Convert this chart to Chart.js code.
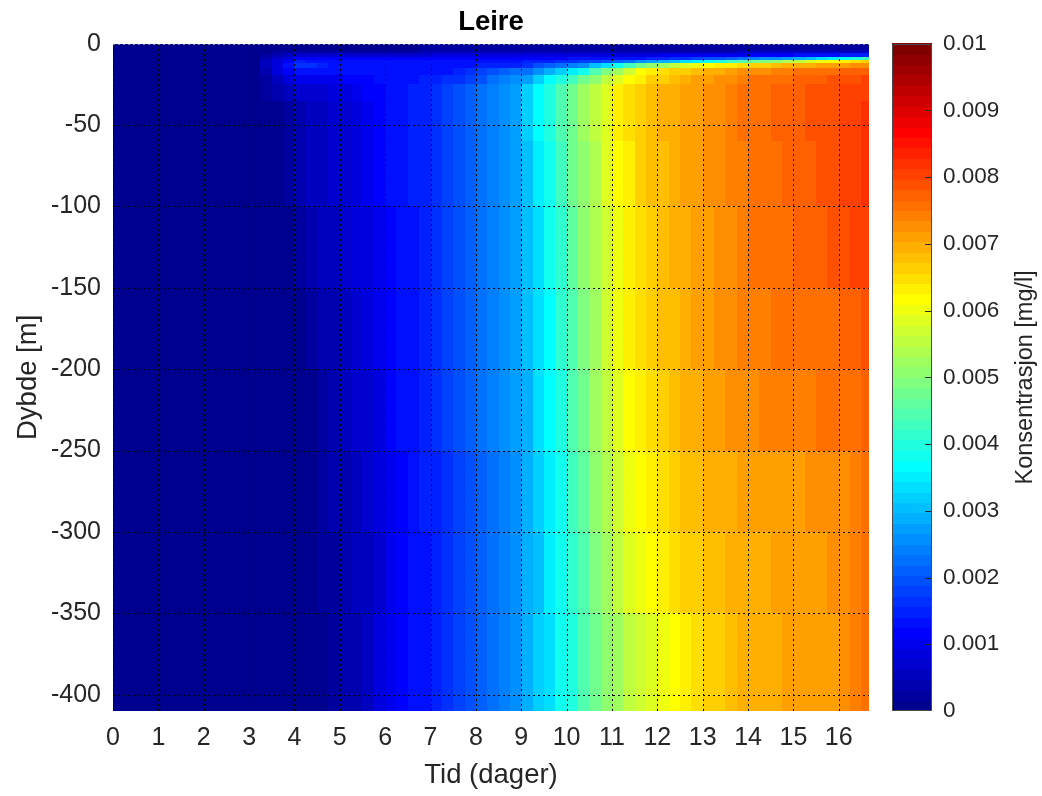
<!DOCTYPE html>
<html>
<head>
<meta charset="utf-8">
<script src="https://cdn.jsdelivr.net/npm/chart.js@4.4.1/dist/chart.umd.min.js"></script>
<style>
  html, body { margin: 0; padding: 0; background: #ffffff; }
  canvas { display: block; }
</style>
</head>
<body>
<canvas id="chart" width="1042" height="796"></canvas>
<script>
// ---- labels -------------------------------------------------------------
const TITLE = 'Leire';
const X_LABEL = 'Tid (dager)';
const Y_LABEL = 'Dybde [m]';
const C_LABEL = 'Konsentrasjon [mg/l]';

// ---- axes ---------------------------------------------------------------
const X_MAX = 16.6667;              // simulation length in days
const Y_MIN = -410;                 // deepest level in m
const X_TICKS = [0, 1, 2, 3, 4, 5, 6, 7, 8, 9, 10, 11, 12, 13, 14, 15, 16];
const Y_TICKS = [0, -50, -100, -150, -200, -250, -300, -350, -400];
const C_MAX = 0.01;
const C_TICKS = [0, 0.001, 0.002, 0.003, 0.004, 0.005, 0.006, 0.007, 0.008, 0.009, 0.01];
const C_TICK_LABELS = ['0', '0.001', '0.002', '0.003', '0.004', '0.005', '0.006', '0.007', '0.008', '0.009', '0.01'];

// ---- sampling -----------------------------------------------------------
// start of each output interval (days)
const TIME_DAYS = [
  0, 0.25, 0.5, 0.75, 1, 1.25, 1.5, 1.75, 2, 2.25, 2.5, 2.75, 3,
  3.25, 3.5, 3.75, 4, 4.25, 4.5, 4.75, 5, 5.25, 5.5, 5.75, 6, 6.25, 6.5, 6.75,
  7, 7.25, 7.5, 7.75, 8, 8.25, 8.5, 8.75, 9, 9.25, 9.5, 9.75, 10, 10.25,
  10.5, 10.75, 11, 11.25, 11.5, 11.75, 12, 12.25, 12.5, 12.75, 13, 13.25,
  13.5, 13.75, 14, 14.25, 14.5, 14.75, 15, 15.25, 15.5, 15.75, 16, 16.25, 16.5
];
// depth band edges (m), surface first
const DEPTH_EDGES = [0, -4, -6, -8, -10, -12, -15, -19, -25, -35, -60, -100, -150, -200, -250, -300, -350, -410];

// ---- clay concentration per depth band, in units of 0.0001 mg/l ----------
const band_0_4 = [
  0.5,0.5,0.5,0.5,0.5,0.5,0.5,0.5,0.5,0.5,0.5,0.5,0.5,
  0.5,1,1.5,1.5,1.5,1.5,1.5,1.5,1.5,1.5,1.5,1.5,1.5,1.5,
  2,2,2,2,2,2,2,2,2,2,2,2,2,2,
  2.5,2.5,2.5,2.5,2.5,2.5,2.5,2.5,2.5,2.5,2.5,2.5,2.5,2.5,
  3,3,3,3,3,3,3,3,3,3,3,3
];
const band_4_6 = [
  0.5,0.5,0.5,0.5,0.5,0.5,0.5,0.5,0.5,0.5,0.5,0.5,0.5,
  1,2,3,3,3,3,3,3,3,3,3,3,3,3,
  3.5,3.5,3.5,3.5,3.5,3.5,3.5,3.5,3.5,3.5,3.5,3.5,3.5,3.5,
  4,4,4,4,4,4,4,4,4,4,4,4,4,4,
  5,5,5,5,5,5,5,5,5,5,5,5
];
const band_6_8 = [
  0.5,0.5,0.5,0.5,0.5,0.5,0.5,0.5,0.5,0.5,0.5,0.5,0.5,
  2,4,6,7,7,7,7,7,7,7,7,7,7,7,
  7,8,8,8,8,8,8,8,8,8,8,8,8,8.5,
  8.5,8.5,8.5,8.5,8.5,8.5,8.5,10,10,10,10,10,10,10,
  10,11,11,11,11,13,13,13,13,15,15,15
];
const band_8_10 = [
  0.5,0.5,0.5,0.5,0.5,0.5,0.5,0.5,0.5,0.5,0.5,0.5,0.5,
  4,7,9,11,12,12,12,12,12,12,12,12,12,12,
  12,12,12,12,12,12,12,12,12,12,12,12,12,12.5,
  12.5,12.5,13,13,13.5,14,14.5,15,16,17,18,19,20,21,
  22,23.5,25,26.5,28,29.5,31,33,35,37,40,43
];
const band_10_12 = [
  0.5,0.5,0.5,0.5,0.5,0.5,0.5,0.5,0.5,0.5,0.5,0.5,0.5,
  5,9,12,15,14,13.5,13.5,13.5,13.5,13.5,13.5,13.5,13.5,13.5,
  13.5,13,13,13,13,13,13,13.5,14,14.5,15,15.5,16,16.5,
  17.5,18.5,20,21.5,23,25,27,29,31,33,35,37.5,40,42.5,
  45,47,49,51.5,54,56,58,60,62,63.5,65,66
];
const band_12_15 = [
  0.5,0.5,0.5,0.5,0.5,0.5,0.5,0.5,0.5,0.5,0.5,0.5,0.5,
  5,9,13,17,16,14.5,13.5,13.5,13.5,13.5,13.5,13.5,13.5,13.5,
  13.5,14,14,14,14,15,15,15,15,17,19,20.5,22,24,
  26.5,30,34,38.5,43,47,50,53,56,58,60,61.5,63,64,
  65,66,67,68,69,69.5,70,70.5,71,71.5,72,73
];
const band_15_19 = [
  0.5,0.5,0.5,0.5,0.5,0.5,0.5,0.5,0.5,0.5,0.5,0.5,0.5,
  4,8,11,14,14,13,13,13,13,13,13,13,13,13,
  13,14,14,15,16,18,19,21,22,23,26,29,32,35,
  39,44,49,53,57,61,63,65,66,67,68,69,70,71,
  72,73,73,74,74,75,75,76,76,77,77,78
];
const band_19_25 = [
  0.5,0.5,0.5,0.5,0.5,0.5,0.5,0.5,0.5,0.5,0.5,0.5,0.5,
  3,6,8,10,10,10,10.5,11,11.5,12,12.5,13,13.5,14,
  14.5,15,16,17,18,20,22,24,26,28,32,36,40,43,
  47,51,55,59,62,64,66,67,68,69.5,70.5,71.5,72,73,
  74,75,75.5,76,76.5,77,77.5,78,78.5,79,79.5,80
];
const band_25_35 = [
  0.5,0.5,0.5,0.5,0.5,0.5,0.5,0.5,0.5,0.5,0.5,0.5,0.5,
  2,4,6,7,7,7.5,8,9,10,11,12,13,14,14.5,
  15,16.5,18,19.5,21,23,24.5,26,28,32,36,40,44,48,
  52,55,59,62.5,65,66.5,68,69,70,70.5,71.5,72.5,73,74,
  75,76,76.5,77,77.5,78,78.5,79,79.5,80,80.5,81
];
const band_35_60 = [
  0.5,0.5,0.5,0.5,0.5,0.5,0.5,0.5,0.5,0.5,0.5,0.5,0.5,
  0.5,1.5,2.5,4,5.5,6,6.5,7.5,8.5,9.5,11,12.5,13.5,14.5,
  15.5,17,18.5,20,21.5,23,24.5,26,28,32,36,40,44,48,
  52,55,59,62.5,65,66.5,68,69,70,70.5,71.5,72.5,73,74,
  75,76,76.5,77,77.5,78,78.5,79,79.5,80,81,81.5
];
const band_60_100 = [
  0.5,0.5,0.5,0.5,0.5,0.5,0.5,0.5,0.5,0.5,0.5,0.5,0.5,
  0.5,1,2,3.5,5,6,6.5,7.5,8.5,9.5,11,12.5,13.5,14.5,
  15.5,17,18.5,20,21.5,23,24.5,26,28,31,35,39,43,47,
  51,54,58,61.5,64,66,67.5,68.5,69.5,70.5,71,72,73,73.5,
  74.5,75.5,76,76.5,77,77.5,78,78.5,79,80,81,81.5
];
const band_100_150 = [
  0.5,0.5,0.5,0.5,0.5,0.5,0.5,0.5,0.5,0.5,0.5,0.5,0.5,
  0.5,0.5,1.5,3,4,5,6,7,8,9,10.5,12,13,14,
  15,16.5,18,19.5,21,22.5,24,25.5,27.5,30.5,34,38,42,46,
  50,53.5,57,60.5,63,65,67,68,69,70,71,71.5,72.5,73,
  74,75,75.5,76,76.5,77,77.5,78,78.5,79,80,80.5
];
const band_150_200 = [
  0.5,0.5,0.5,0.5,0.5,0.5,0.5,0.5,0.5,0.5,0.5,0.5,0.5,
  0.5,0.5,0.5,1,2,3.5,4.5,5.5,6.5,8,9.5,11.5,13,14,
  15,16.5,18,19.5,21,22.5,24,25.5,27.5,30,33.5,37,41,45,
  49,53,56.5,60,62.5,64.5,66.5,67.5,68.5,69.5,70.5,71,72,72.5,
  73.5,74,74.5,75,75,75.5,76,76,76.5,77,78,79
];
const band_200_250 = [
  0.5,0.5,0.5,0.5,0.5,0.5,0.5,0.5,0.5,0.5,0.5,0.5,0.5,
  0.5,0.5,0.5,0.5,1.5,3,4.5,5.5,6.5,7.5,9,11,12.5,14,
  15,16,17.5,19,20.5,22,23.5,25,27,29.5,33,36.5,40,44,
  48,52,55.5,59,61.5,63.5,65.5,67,68,69,70,70.5,71.5,72,
  72.5,73,73.5,74,74,74.5,74.5,75,75,75.5,76,77
];
const band_250_300 = [
  0.5,0.5,0.5,0.5,0.5,0.5,0.5,0.5,0.5,0.5,0.5,0.5,0.5,
  0.5,0.5,0.5,0.5,1,2.5,3.5,4.5,5.5,6.5,8,10,12,13.5,
  14.5,15.5,17,18.5,20,21.5,23,24.5,26.5,29,32,35.5,39,42.5,
  46.5,50,54,57.5,60,62,63.5,65,66.5,67.5,68.5,69,69.5,70,
  70.5,70.5,71,71,71.5,71.5,72,72,72.5,73,74,75
];
const band_300_350 = [
  0.5,0.5,0.5,0.5,0.5,0.5,0.5,0.5,0.5,0.5,0.5,0.5,0.5,
  0.5,0.5,0.5,0.5,1,2,3,4,5,6,7.5,9.5,11.5,13,
  14,15,16.5,18,19.5,21,22.5,24,26,28.5,31,34.5,38,41,
  45,48.5,52,55.5,58,60,62,63.5,65,66,67,68,68.5,69,
  69.5,70,70,70.5,70.5,71,71,71.5,72,72.5,73.5,75
];
const band_350_410 = [
  0.5,0.5,0.5,0.5,0.5,0.5,0.5,0.5,0.5,0.5,0.5,0.5,0.5,
  0.5,0.5,0.5,0.5,0.5,1.5,2.5,3.5,4.5,5.5,8,10.5,12,13.5,
  14,15,16.5,18,19.5,21,22.5,24.5,26.5,29,32,34,37.5,40,
  44,47,50,53,55,57,58.5,60,61.5,63,64.5,66,67,68,
  69,69.5,70,70,70.5,70.5,71,71,71.5,72.5,73.5,75
];
const BANDS = [
  band_0_4, band_4_6, band_6_8, band_8_10, band_10_12, band_12_15, band_15_19,
  band_19_25, band_25_35, band_35_60, band_60_100, band_100_150, band_150_200,
  band_200_250, band_250_300, band_300_350, band_350_410
];
const UNIT = 0.0001;   // mg/l per stored unit

// ---- style --------------------------------------------------------------
const FONT = "'Liberation Sans', Arial, Helvetica, sans-serif";
const INK = '#262626';

// MATLAB-style jet colormap with m entries
function jetMap(m) {
  const n = Math.ceil(m / 4);
  const u = [];
  for (let i = 1; i <= n; i++) u.push(i / n);
  for (let i = 0; i < n - 1; i++) u.push(1);
  for (let i = n; i >= 1; i--) u.push(i / n);
  const g0 = Math.ceil(n / 2) - (m % 4 === 1 ? 1 : 0);
  const rgb = Array.from({ length: m }, () => [0, 0, 0]);
  u.forEach((val, k) => {
    const gi = g0 + k + 1, ri = gi + n, bi = gi - n;
    if (gi >= 1 && gi <= m) rgb[gi - 1][1] = val;
    if (ri >= 1 && ri <= m) rgb[ri - 1][0] = val;
    if (bi >= 1 && bi <= m) rgb[bi - 1][2] = val;
  });
  return rgb.map(c => `rgb(${Math.round(c[0] * 255)},${Math.round(c[1] * 255)},${Math.round(c[2] * 255)})`);
}
const LEVELS = 64;
const JET = jetMap(LEVELS);
function colourFor(v) {
  let k = Math.floor(v / C_MAX * LEVELS);
  if (k < 0) k = 0;
  if (k > LEVELS - 1) k = LEVELS - 1;
  return JET[k];
}

// filled concentration field, one cell per interval and depth band
const fieldPlugin = {
  id: 'field',
  beforeDatasetsDraw(chart) {
    const { ctx, chartArea: a, scales: { x, y } } = chart;
    ctx.save();
    ctx.beginPath();
    ctx.rect(a.left, a.top, a.right - a.left, a.bottom - a.top);
    ctx.clip();
    BANDS.forEach((row, r) => {
      const T = Math.round(y.getPixelForValue(DEPTH_EDGES[r]));
      const B = Math.round(y.getPixelForValue(DEPTH_EDGES[r + 1]));
      row.forEach((val, i) => {
        const last = i + 1 >= TIME_DAYS.length;
        const t1 = last ? X_MAX : TIME_DAYS[i + 1];
        const L = Math.round(x.getPixelForValue(TIME_DAYS[i]));
        const R = Math.round(x.getPixelForValue(t1));
        ctx.fillStyle = colourFor(val * UNIT);
        ctx.fillRect(L, T, R - L + (last ? 1 : 0), B - T + (r === BANDS.length - 1 ? 1 : 0));
      });
    });
    ctx.restore();
  },
  // dotted grid on top of the field
  afterDatasetsDraw(chart) {
    const { ctx, chartArea: a, scales: { x, y } } = chart;
    ctx.save();
    ctx.lineWidth = 1;
    ctx.setLineDash([2, 3]);
    ctx.strokeStyle = '#000000';
    x.ticks.forEach(t => {
      const px = Math.round(x.getPixelForValue(t.value)) + 0.5;
      ctx.beginPath(); ctx.moveTo(px, Math.round(a.top)); ctx.lineTo(px, a.bottom); ctx.stroke();
    });
    y.ticks.forEach(t => {
      const py = Math.round(y.getPixelForValue(t.value)) + 0.5;
      ctx.strokeStyle = t.value === 0 ? 'rgba(150,150,150,0.9)' : '#000000';
      ctx.beginPath(); ctx.moveTo(Math.round(a.left), py); ctx.lineTo(a.right, py); ctx.stroke();
    });
    ctx.restore();
  },
  // bold title centred over the plot
  afterDraw(chart) {
    const { ctx, chartArea: a } = chart;
    ctx.save();
    ctx.fillStyle = '#000000';
    ctx.font = `bold 27.5px ${FONT}`;
    ctx.textAlign = 'center';
    ctx.textBaseline = 'middle';
    ctx.fillText(TITLE, (a.left + a.right) / 2, a.top - 21);
    ctx.restore();
  }
};

// colour bar beside the plot, on the concentration scale
const colourBarPlugin = {
  id: 'colourBar',
  afterDraw(chart) {
    const { ctx, chartArea: a, scales: { c } } = chart;
    const left = c.left + 23, width = 40;
    ctx.save();
    for (let k = 0; k < LEVELS; k++) {
      const yTop = c.getPixelForValue((k + 1) / LEVELS * C_MAX);
      const yBot = c.getPixelForValue(k / LEVELS * C_MAX);
      ctx.fillStyle = JET[k];
      ctx.fillRect(left, Math.floor(yTop), width, Math.ceil(yBot) - Math.floor(yTop));
    }
    ctx.strokeStyle = '#4a4a4a';
    ctx.lineWidth = 1;
    ctx.strokeRect(left + 0.5, Math.round(c.top) + 0.5, width - 1, Math.round(c.bottom - c.top) - 1);
    ctx.strokeStyle = INK;
    C_TICKS.forEach(v => {
      if (v <= 0 || v >= C_MAX) return;
      const py = Math.round(c.getPixelForValue(v)) + 0.5;
      ctx.beginPath(); ctx.moveTo(left + width - 7, py); ctx.lineTo(left + width - 1, py); ctx.stroke();
    });
    // rotated bar label
    ctx.translate(c.left + 157, (a.top + a.bottom) / 2);
    ctx.rotate(-Math.PI / 2);
    ctx.fillStyle = INK;
    ctx.font = `23.5px ${FONT}`;
    ctx.textAlign = 'center';
    ctx.textBaseline = 'middle';
    ctx.fillText(C_LABEL, 0, 0);
    ctx.restore();
  }
};

new Chart(document.getElementById('chart'), {
  type: 'scatter',
  data: { datasets: [] },
  plugins: [fieldPlugin, colourBarPlugin],
  options: {
    responsive: false,
    devicePixelRatio: 1,
    animation: false,
    layout: { padding: { top: 43.7, left: 0, right: 0, bottom: 0 } },
    plugins: {
      legend: { display: false },
      tooltip: { enabled: false },
      title: { display: false }
    },
    scales: {
      x: {
        type: 'linear',
        position: 'bottom',
        min: 0,
        max: X_MAX,
        afterBuildTicks: s => { s.ticks = X_TICKS.map(v => ({ value: v })); },
        afterFit: s => { s.height = 85; },
        grid: { display: false, drawTicks: true, tickLength: 12 },
        border: { display: false },
        ticks: {
          autoSkip: false, maxRotation: 0, padding: 0, color: INK,
          font: { family: FONT, size: 25 },
          callback: v => String(v)
        },
        title: {
          display: true, text: X_LABEL, color: INK,
          font: { family: FONT, size: 27.5, lineHeight: 1.2 },
          padding: { top: 0, bottom: 4.5 }
        }
      },
      y: {
        type: 'linear',
        position: 'left',
        min: Y_MIN,
        max: 0,
        afterBuildTicks: s => { s.ticks = Y_TICKS.map(v => ({ value: v })); },
        afterFit: s => { s.width = 113; },
        grid: { display: false, drawTicks: true, tickLength: 12 },
        border: { display: false },
        ticks: {
          autoSkip: false, padding: 0, color: INK,
          font: { family: FONT, size: 25 },
          callback: v => String(v)
        },
        title: {
          display: true, text: Y_LABEL, color: INK,
          font: { family: FONT, size: 27.5, lineHeight: 1.2 },
          padding: { top: 11.5, bottom: 0 }
        }
      },
      c: {
        type: 'linear',
        position: 'right',
        min: 0,
        max: C_MAX,
        afterBuildTicks: s => { s.ticks = C_TICKS.map(v => ({ value: v })); },
        afterFit: s => { s.width = 173; },
        grid: { display: false, drawTicks: true, tickLength: 74 },
        border: { display: false },
        ticks: {
          autoSkip: false, padding: 0, color: INK,
          font: { family: FONT, size: 22.5 },
          callback: (v, i) => C_TICK_LABELS[i]
        }
      }
    }
  }
});
</script>
</body>
</html>
